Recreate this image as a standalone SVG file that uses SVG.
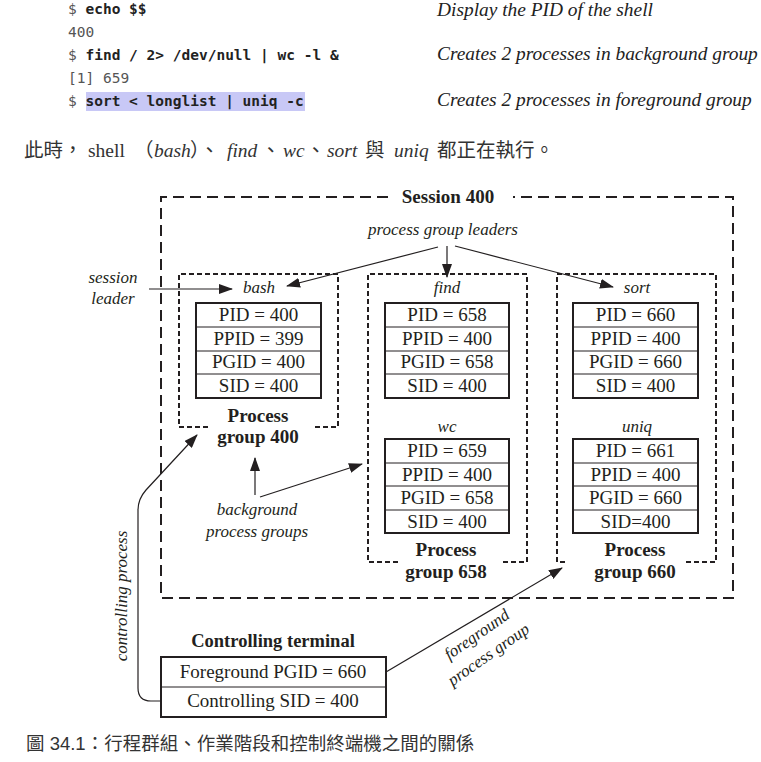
<svg xmlns="http://www.w3.org/2000/svg" width="761" height="762" viewBox="0 0 761 762">
<style>
.code{font-family:"DejaVu Sans Mono","Liberation Mono",monospace;font-size:14.5px;fill:#222}
.cb{font-weight:bold}
.cg{fill:#555}
.note{font-family:"Liberation Serif",serif;font-style:italic;font-size:19.4px;fill:#222}
.zh{font-family:"Liberation Serif","Noto Sans CJK TC",serif;font-size:19.5px;fill:#333}
.zi{font-style:italic}
.cap{font-family:"Liberation Sans","Noto Sans CJK TC",sans-serif;font-size:18.5px;fill:#333}
.t{font-family:"Liberation Serif",serif;font-size:19px;fill:#231f20;text-anchor:middle}
.b{font-weight:bold}
.i{font-family:"Liberation Serif",serif;font-style:italic;font-size:17px;fill:#231f20;text-anchor:middle}
.sess{fill:none;stroke:#231f20;stroke-width:2;stroke-dasharray:11 6}
.grp{fill:none;stroke:#231f20;stroke-width:2;stroke-dasharray:5 3}
.tbl{fill:#fff;stroke:#231f20;stroke-width:2}
.row{stroke:#231f20;stroke-width:1}
.arr{fill:none;stroke:#231f20;stroke-width:1.2;marker-end:url(#ah)}
</style>
<defs>
<marker id="ah" markerUnits="userSpaceOnUse" markerWidth="14" markerHeight="10" refX="13" refY="5" orient="auto">
<path d="M0,0 L14,5 L0,10 z" fill="#231f20"/>
</marker>
</defs>
<rect width="761" height="762" fill="#fff"/>

<!-- code block -->
<rect x="86" y="92" width="219" height="19" fill="#c8c8f6"/>
<text class="code" x="68" y="14"><tspan class="cg">$ </tspan><tspan class="cb">echo $$</tspan></text>
<text class="code cg" x="68" y="37">400</text>
<text class="code" x="68" y="60"><tspan class="cg">$ </tspan><tspan class="cb">find / 2&gt; /dev/null | wc -l &amp;</tspan></text>
<text class="code cg" x="68" y="83">[1] 659</text>
<text class="code" x="68" y="106"><tspan class="cg">$ </tspan><tspan class="cb">sort &lt; longlist | uniq -c</tspan></text>
<text class="note" x="437" y="16">Display the PID of the shell</text>
<text class="note" x="437" y="60">Creates 2 processes in background group</text>
<text class="note" x="437" y="106">Creates 2 processes in foreground group</text>

<text class="zh" y="157"><tspan x="24">此時，</tspan><tspan x="88">shell</tspan><tspan x="134">（</tspan><tspan x="154" class="zi">bash</tspan><tspan x="190">）、</tspan><tspan x="227" class="zi">find</tspan><tspan x="261">、</tspan><tspan x="283" class="zi">wc</tspan><tspan x="306">、</tspan><tspan x="327" class="zi">sort</tspan><tspan x="365">與</tspan><tspan x="394" class="zi">uniq</tspan><tspan x="437">都正在執行。</tspan></text>

<!-- session -->
<g id="session400">
<path class="sess" d="M388,197 L161,197 L161,598 L733,598 L733,197 L513,197"/>
<text class="t b" x="448" y="203">Session 400</text>
</g>

<!-- process groups -->
<g id="pg400">
<path class="grp" d="M208,427 L179,427 L179,274 L338,274 L338,427 L312,427"/>
<text class="t b" x="258" y="422">Process</text>
<text class="t b" x="258" y="443">group 400</text>
</g>
<g id="pg658">
<path class="grp" d="M398,562 L368,562 L368,274 L527,274 L527,562 L500,562"/>
<text class="t b" x="446" y="556">Process</text>
<text class="t b" x="446" y="578">group 658</text>
</g>
<g id="pg660">
<path class="grp" d="M565,562 L557,562 L557,274 L716,274 L716,562 L686,562"/>
<text class="t b" x="635" y="556">Process</text>
<text class="t b" x="635" y="578">group 660</text>
</g>

<!-- processes -->
<g id="bash">
<text class="i" x="259" y="293">bash</text>
<rect class="tbl" x="196" y="303" width="125" height="95"/>
<line class="row" x1="196" y1="327" x2="321" y2="327"/>
<line class="row" x1="196" y1="351" x2="321" y2="351"/>
<line class="row" x1="196" y1="374" x2="321" y2="374"/>
<text class="t" x="258.5" y="321">PID = 400</text>
<text class="t" x="258.5" y="345">PPID = 399</text>
<text class="t" x="258.5" y="368">PGID = 400</text>
<text class="t" x="258.5" y="392">SID = 400</text>
</g>
<g id="find">
<text class="i" x="447" y="293">find</text>
<rect class="tbl" x="385" y="303" width="124" height="95"/>
<line class="row" x1="385" y1="327" x2="509" y2="327"/>
<line class="row" x1="385" y1="351" x2="509" y2="351"/>
<line class="row" x1="385" y1="374" x2="509" y2="374"/>
<text class="t" x="447" y="321">PID = 658</text>
<text class="t" x="447" y="345">PPID = 400</text>
<text class="t" x="447" y="368">PGID = 658</text>
<text class="t" x="447" y="392">SID = 400</text>
</g>
<g id="wc">
<text class="i" x="447" y="432">wc</text>
<rect class="tbl" x="385" y="439" width="124" height="94"/>
<line class="row" x1="385" y1="463" x2="509" y2="463"/>
<line class="row" x1="385" y1="486" x2="509" y2="486"/>
<line class="row" x1="385" y1="510" x2="509" y2="510"/>
<text class="t" x="447" y="457">PID = 659</text>
<text class="t" x="447" y="481">PPID = 400</text>
<text class="t" x="447" y="504">PGID = 658</text>
<text class="t" x="447" y="528">SID = 400</text>
</g>
<g id="sort">
<text class="i" x="637" y="293">sort</text>
<rect class="tbl" x="573" y="303" width="125" height="95"/>
<line class="row" x1="573" y1="327" x2="698" y2="327"/>
<line class="row" x1="573" y1="351" x2="698" y2="351"/>
<line class="row" x1="573" y1="374" x2="698" y2="374"/>
<text class="t" x="635.5" y="321">PID = 660</text>
<text class="t" x="635.5" y="345">PPID = 400</text>
<text class="t" x="635.5" y="368">PGID = 660</text>
<text class="t" x="635.5" y="392">SID = 400</text>
</g>
<g id="uniq">
<text class="i" x="637" y="432">uniq</text>
<rect class="tbl" x="573" y="439" width="125" height="94"/>
<line class="row" x1="573" y1="463" x2="698" y2="463"/>
<line class="row" x1="573" y1="486" x2="698" y2="486"/>
<line class="row" x1="573" y1="510" x2="698" y2="510"/>
<text class="t" x="635.5" y="457">PID = 661</text>
<text class="t" x="635.5" y="481">PPID = 400</text>
<text class="t" x="635.5" y="504">PGID = 660</text>
<text class="t" x="635.5" y="528">SID=400</text>
</g>

<!-- terminal -->
<g id="terminal">
<text class="t b" x="273" y="647" style="font-size:18.5px">Controlling terminal</text>
<rect class="tbl" x="161" y="657" width="225" height="60"/>
<line class="row" x1="161" y1="687" x2="386" y2="687"/>
<text class="t" x="273" y="678">Foreground PGID = 660</text>
<text class="t" x="273" y="707">Controlling SID = 400</text>
</g>

<!-- labels -->
<g id="labels">
<text class="i" x="443" y="235">process group leaders</text>
<text class="i" x="113" y="283">session</text>
<text class="i" x="113" y="304">leader</text>
<text class="i" x="257" y="515">background</text>
<text class="i" x="257" y="537">process groups</text>
<text class="i" transform="translate(127,596) rotate(-90)">controlling process</text>
<g transform="translate(480,639) rotate(-35)">
<text class="i" x="0" y="0">foreground</text>
<text class="i" x="-2" y="23">process group</text>
</g>
</g>

<!-- connectors -->
<g id="connectors">
<path class="arr" d="M149,289 L232,289"/>
<path class="arr" d="M438,247 L287,286"/>
<path class="arr" d="M447,246 L447,277"/>
<path class="arr" d="M455,246 L613,287"/>
<path class="arr" d="M255,495 L255,458"/>
<path class="arr" d="M260,497 L362,464"/>
<path class="arr" d="M161,701 L151,701 Q138,701 138,688 L138,510 Q138,499 146,490 L197,435"/>
<path class="arr" d="M386,672 L562,568"/>
</g>

<text class="cap" x="26" y="750">圖 34.1：行程群組、作業階段和控制終端機之間的關係</text>
</svg>
